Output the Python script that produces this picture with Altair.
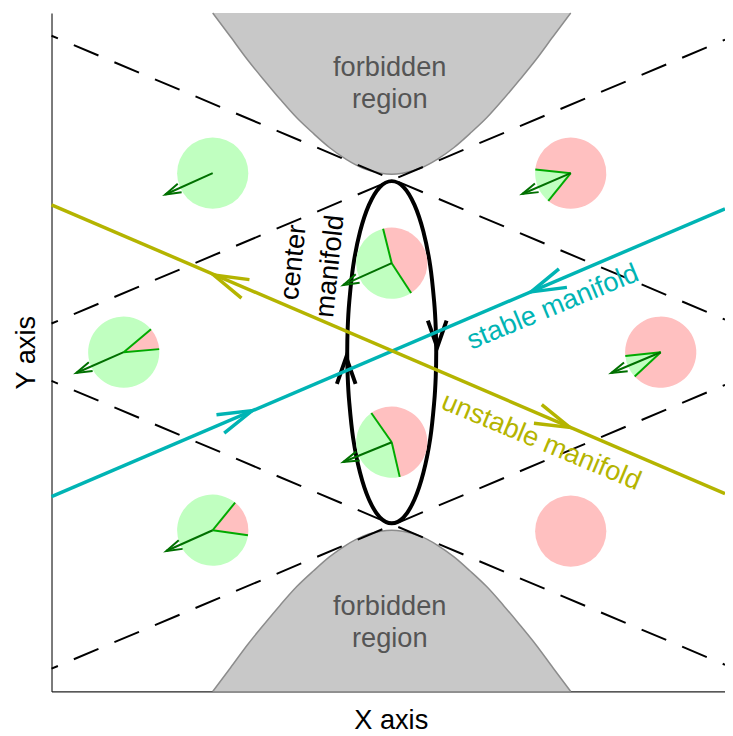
import altair as alt
import numpy as np
import pandas as pd

# ---------------- values ----------------
# plot coordinates: origin at the saddle point, x -344..337, y -343..343
X_DOMAIN = [-344, 337]
Y_DOMAIN = [-343, 343]

# boundary of the upper forbidden region (the lower one is its mirror image)
forbid_x = [-181, -163, -146, -129, -113, -96, -79, -63, -46, -29, -11, 0,
            11, 29, 46, 63, 79, 96, 113, 129, 146, 163, 181]
forbid_y = [343, 319, 296, 275, 256, 237, 221, 207, 195, 186, 181, 180,
            181, 186, 195, 207, 221, 237, 256, 275, 296, 319, 343]

# dashed guide lines (start / end points)
guide_x0 = [-344, -344, -344, -344]
guide_y0 = [320, 29, -29, -320]
guide_x1 = [337, 337, 337, 337]
guide_y1 = [33, 316, -316, -33]

# manifolds
stable_x = [-344, 337]
stable_y = [-146, 145]
unstable_x = [-344, 337]
unstable_y = [149, -143]
stable_tip_x = [-141, 141]
stable_tip_y = [-59, 61]
unstable_tip_x = [-180, 180]
unstable_tip_y = [78, -76]

# center manifold (closed orbit), clockwise from the top
orbit_x = [0, 12, 23, 32, 39, 43, 44.5, 45, 44.5, 43, 39, 32, 23, 12,
           0, -12, -23, -32, -39, -43, -44.5, -45, -44.5, -43, -39, -32, -23, -12]
orbit_y = [173, 167, 149, 122, 87, 50, 25, 0, -25, -50, -87, -122, -149, -167,
           -173, -167, -149, -122, -87, -50, -25, 0, 25, 50, 87, 122, 149, 167]
orbit_tip_x = [46, -46]
orbit_tip_y = [5, -5]
orbit_dir_y = [-1, 1]

# pies: centre, pink sector (degrees clockwise from 12 o'clock), rest green
pie_x = [-181, -271, -181, 0, 0, 181, 272, 181]
pie_y = [181, 0, -180, 90, -91, 181, 0, -181]
pink_from = [0, 50, 39, -14, -35, 276, 264, 0]
pink_to = [0, 85, 98, 147, 167, 579, 587, 360]
# pies with a drawn arrow (index) and the arrow tips
arrow_pie = [0, 1, 2, 3, 4, 5, 6]
arrow_tip_x = [-229, -319, -228, -49, -49, 132, 222]
arrow_tip_y = [159.5, -21, -201, 68, -111, 160, -21]

# ---------------- styling ----------------
FONT = "Liberation Sans"
FS = 27.5
GREEN = "#c0ffc0"
PINK = "#ffc0c0"
CYAN = "#00b4b4"
OLIVE = "#b4b400"

xs = alt.Scale(domain=X_DOMAIN, nice=False, zero=False)
ys = alt.Scale(domain=Y_DOMAIN, nice=False, zero=False)
x_axis = alt.Axis(title="X axis", labels=False, ticks=False, grid=False,
                  domainColor="#222222", domainWidth=1.2, titleFont=FONT,
                  titleFontSize=FS, titleFontWeight="normal", titleColor="black",
                  titleX=343, titleY=37, titleAlign="center",
                  titleBaseline="alphabetic", titleAngle=0)
y_axis = alt.Axis(title="Y axis", labels=False, ticks=False, grid=False,
                  domainColor="#222222", domainWidth=1.2, titleFont=FONT,
                  titleFontSize=FS, titleFontWeight="normal", titleColor="black",
                  titleX=-17, titleY=343, titleAlign="center",
                  titleBaseline="alphabetic", titleAngle=270)


def ex(f):
    return alt.X(f"{f}:Q", scale=xs, axis=x_axis)


def ey(f):
    return alt.Y(f"{f}:Q", scale=ys, axis=y_axis)


def heading(dx, dy):
    return float(np.degrees(np.arctan2(-dy, dx)) % 360)


def head_shape(w):
    return f"M -1 {-w} L 0 0 L -1 {w}"


# ---------------- tables ----------------
n = len(forbid_x)
regions = pd.DataFrame({
    "x": forbid_x * 2,
    "y": forbid_y + [-v for v in forbid_y],
    "edge": [Y_DOMAIN[1]] * n + [Y_DOMAIN[0]] * n,
    "region": ["upper"] * n + ["lower"] * n,
})

guides = pd.DataFrame({"x0": guide_x0, "y0": guide_y0, "x1": guide_x1, "y1": guide_y1})

manifolds = pd.DataFrame({
    "x0": [stable_x[0], unstable_x[0]], "y0": [stable_y[0], unstable_y[0]],
    "x1": [stable_x[1], unstable_x[1]], "y1": [stable_y[1], unstable_y[1]],
    "kind": ["stable", "unstable"],
})
man_heads = pd.DataFrame({
    "x": stable_tip_x + unstable_tip_x,
    "y": stable_tip_y + unstable_tip_y,
    "kind": ["stable"] * 2 + ["unstable"] * 2,
    "ang": [heading(-x, -y) for x, y in zip(stable_tip_x, stable_tip_y)]
           + [heading(x, y) for x, y in zip(unstable_tip_x, unstable_tip_y)],
})
man_color = alt.Color("kind:N", scale=alt.Scale(domain=["stable", "unstable"],
                                                range=[CYAN, OLIVE]), legend=None)

orbit = pd.DataFrame({"x": orbit_x, "y": orbit_y, "i": list(range(len(orbit_x)))})
orbit_heads = pd.DataFrame({"x": orbit_tip_x, "y": orbit_tip_y,
                            "ang": [heading(0, d) for d in orbit_dir_y]})

slices = []
borders = []
for i in range(len(pie_x)):
    a, b = pink_from[i], pink_to[i]
    if b > a:
        slices.append({"x": pie_x[i], "y": pie_y[i], "t0": np.radians(a),
                       "t1": np.radians(b), "kind": "pink"})
    if a + 360 > b:
        slices.append({"x": pie_x[i], "y": pie_y[i], "t0": np.radians(b),
                       "t1": np.radians(a + 360), "kind": "green"})
    if b > a and a + 360 > b:
        borders.append({"x": pie_x[i], "y": pie_y[i], "ang": a % 360})
        borders.append({"x": pie_x[i], "y": pie_y[i], "ang": b % 360})
slices = pd.DataFrame(slices)
borders = pd.DataFrame(borders)

arrows = pd.DataFrame({
    "x0": [pie_x[k] for k in arrow_pie], "y0": [pie_y[k] for k in arrow_pie],
    "x1": arrow_tip_x, "y1": arrow_tip_y,
})
arrows["ang"] = [heading(r.x1 - r.x0, r.y1 - r.y0) for r in arrows.itertuples()]

labels_gray = pd.DataFrame({"x": [-2, -2, -2, -2], "y": [279, 247, -266, -298],
                            "t": ["forbidden", "region", "forbidden", "region"]})
labels_center = pd.DataFrame({"x": [-91, -54], "y": [90, 86], "t": ["center", "manifold"]})
label_stable = pd.DataFrame({"x": [166], "y": [38], "t": ["stable manifold"]})
label_unstable = pd.DataFrame({"x": [148], "y": [-98], "t": ["unstable manifold"]})

# ---------------- layers ----------------
area = alt.Chart(regions).mark_area(color="#c8c8c8", opacity=1, interpolate="monotone").encode(
    x=ex("x"), y=ey("y"), y2=alt.Y2("edge:Q"), detail="region:N")
edge = alt.Chart(regions).mark_line(color="#8c8c8c", strokeWidth=1.5, interpolate="monotone").encode(
    x=ex("x"), y=ey("y"), detail="region:N")

guide = alt.Chart(guides).mark_rule(color="black", strokeWidth=2, strokeDash=[27, 17.5],
                                    strokeDashOffset=20).encode(
    x=ex("x0"), y=ey("y0"), x2=alt.X2("x1:Q"), y2=alt.Y2("y1:Q"))

orbit_line = alt.Chart(orbit).mark_line(color="black", strokeWidth=4,
                                        interpolate="cardinal-closed").encode(
    x=ex("x"), y=ey("y"), order=alt.Order("i:Q"))
orbit_head = alt.Chart(orbit_heads).mark_point(
    shape=head_shape(0.35), size=2916, filled=False, color="black", strokeWidth=4,
    opacity=1).encode(x=ex("x"), y=ey("y"), angle=alt.Angle("ang:Q", scale=None))

pies = alt.Chart(slices).mark_arc(radius=36, strokeWidth=0).encode(
    x=ex("x"), y=ey("y"),
    theta=alt.Theta("t0:Q", scale=None), theta2=alt.Theta2("t1:Q"),
    color=alt.Color("kind:N", scale=alt.Scale(domain=["green", "pink"], range=[GREEN, PINK]),
                    legend=None))
pie_borders = alt.Chart(borders).mark_point(
    shape="M 0 0 L 0 -1", size=5184, filled=False, color="#00aa00", strokeWidth=2,
    opacity=1).encode(x=ex("x"), y=ey("y"), angle=alt.Angle("ang:Q", scale=None))

arrow_shaft = alt.Chart(arrows).mark_rule(color="#007000", strokeWidth=2).encode(
    x=ex("x0"), y=ey("y0"), x2=alt.X2("x1:Q"), y2=alt.Y2("y1:Q"))
arrow_head = alt.Chart(arrows).mark_point(
    shape=head_shape(0.3), size=1024, filled=False, color="#007000", strokeWidth=2,
    opacity=1).encode(x=ex("x1"), y=ey("y1"), angle=alt.Angle("ang:Q", scale=None))

man_lines = alt.Chart(manifolds).mark_rule(strokeWidth=3.5).encode(
    x=ex("x0"), y=ey("y0"), x2=alt.X2("x1:Q"), y2=alt.Y2("y1:Q"), color=man_color)
man_head = alt.Chart(man_heads).mark_point(
    shape=head_shape(0.29), size=4900, filled=False, strokeWidth=3.5, opacity=1).encode(
    x=ex("x"), y=ey("y"), angle=alt.Angle("ang:Q", scale=None), color=man_color)

txt_gray = alt.Chart(labels_gray).mark_text(
    font=FONT, fontSize=FS, color="#555555", align="center", baseline="alphabetic").encode(
    x=ex("x"), y=ey("y"), text="t:N")
txt_center = alt.Chart(labels_center).mark_text(
    font=FONT, fontSize=FS, color="black", align="center", baseline="alphabetic",
    angle=276).encode(x=ex("x"), y=ey("y"), text="t:N")
txt_stable = alt.Chart(label_stable).mark_text(
    font=FONT, fontSize=FS, color=CYAN, align="center", baseline="alphabetic",
    angle=337.5).encode(x=ex("x"), y=ey("y"), text="t:N")
txt_unstable = alt.Chart(label_unstable).mark_text(
    font=FONT, fontSize=FS, color=OLIVE, align="center", baseline="alphabetic",
    angle=22.7).encode(x=ex("x"), y=ey("y"), text="t:N")

chart = alt.layer(
    area, edge, guide, orbit_line, pies, pie_borders, arrow_shaft, arrow_head,
    orbit_head, man_lines, man_head, txt_gray, txt_center, txt_stable, txt_unstable,
).resolve_scale(color="independent").properties(
    width=681, height=686,
    autosize=alt.AutoSizeParams(type="none"),
    padding={"left": 44, "top": 1, "right": 0, "bottom": 40},
    background="white",
).configure_view(stroke=None)

chart.save("out.html", embed_options={"renderer": "svg", "actions": False})
